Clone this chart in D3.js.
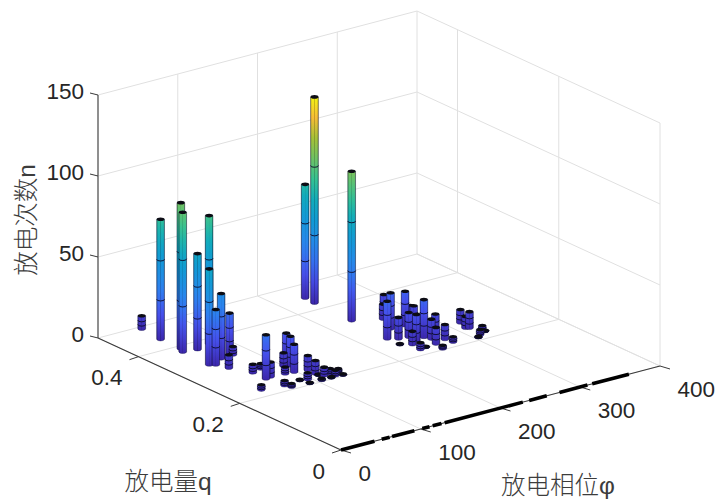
<!DOCTYPE html>
<html><head><meta charset="utf-8">
<style>html,body{margin:0;padding:0;background:#fff}svg{display:block}</style>
<script src="https://cdn.jsdelivr.net/npm/d3@7"></script></head><body>
<svg id="c" width="717" height="499"></svg>
<script>
const phiTicks=[0,100,200,300,400];
const qTicks=[0,0.2,0.4];
const nTicks=[0,50,100,150];
const barPhi=[51,48,48,44,60,79,43,48,63,78,79,53,64,41,77,64,71,111,106,98,100,88,67,70,88,91,112,96,112,112,106,116,124,125,133,118,132,234,235,233,267,250,261,230,267,283,274,250,239,230,240,250,262,265,277,260,275,277,238,246,257,316,311,314,320,311,305,321];
const barQ=[.474,.432,.392,.382,.378,.385,.328,.323,.336,.343,.338,.305,.275,.222,.28,.249,.251,.283,.267,.247,.271,.249,.217,.208,.22,.205,.242,.217,.227,.221,.205,.216,.217,.208,.215,.205,.204,.421,.441,.346,.336,.296,.328,.271,.294,.309,.288,.26,.263,.246,.237,.245,.249,.239,.25,.222,.228,.215,.218,.22,.204,.262,.244,.241,.225,.215,.209,.221];
const barN=[8,74,90,86,59,79,59,34,40,25,5,8,5,3,3,27,9,17,18,17,8,4,3,2,.5,.5,9,4,8,.5,1,5,3,3,2,.5,.5,127,70,92,13,22,9,23,21,8,12,15,13,.5,8,16,23,12,12,10,9,3,4,.5,2,8,7,10,3,3,.5,.5];
const flatFrom=[0,51,64,102,115,130,236,274,315];
const flatTo=[42,61,92,111,126,228,258,309,361];
const parulaPos=[0,.12,.25,.4,.5,.6,.8,.9,1];
const parulaCol=["#3e2ab4","#4852f4","#2d87f7","#119fdb","#12b1c0","#37c897","#abc739","#fec338","#f9fb15"];

const phiX=d3.scaleLinear().domain([0,400]).range([341,660]);
const phiY=d3.scaleLinear().domain([0,400]).range([0,-84]);
const qX=d3.scaleLinear().domain([0,.48]).range([0,-243]);
const qY=d3.scaleLinear().domain([0,.48]).range([450,338]);
const nY=d3.scaleLinear().domain([0,150]).range([0,-243]);
const P=(p,q,n=0)=>[phiX(p)+qX(q),qY(q)+phiY(p)+nY(n)];
const parula=d3.scaleLinear().domain(parulaPos).range(parulaCol).clamp(true);
const colorN=d3.scaleLinear().domain([0,d3.max(barN)]).range([0,1]);

const svg=d3.select("#c");
const defs=svg.append("defs");
const shade=defs.append("linearGradient").attr("id","shade");
[[0,.45],[.14,.03],[.44,.03],[.5,.22],[.56,.03],[.86,.03],[1,.45]].forEach(s=>shade.append("stop").attr("offset",s[0]).attr("stop-color","#000").attr("stop-opacity",s[1]));

const line=(a,b,col,w=1)=>svg.append("line").attr("x1",a[0]).attr("y1",a[1]).attr("x2",b[0]).attr("y2",b[1]).attr("stroke",col).attr("stroke-width",w);
const gridCol="#e0e0e0",axisCol="#262626";
const qMax=.48,pMax=400,nMax=150;
// walls and floor grid
nTicks.filter(n=>n>0).forEach(n=>{line(P(0,qMax,n),P(pMax,qMax,n),gridCol);line(P(pMax,qMax,n),P(pMax,0,n),gridCol);});
phiTicks.forEach(p=>{line(P(p,qMax,0),P(p,qMax,nMax),gridCol);line(P(p,0,0),P(p,qMax,0),gridCol);});
qTicks.forEach(q=>{line(P(pMax,q,0),P(pMax,q,nMax),gridCol);line(P(0,q,0),P(pMax,q,0),gridCol);});
line(P(0,qMax,0),P(pMax,qMax,0),gridCol);line(P(pMax,qMax,0),P(pMax,0,0),gridCol);
// axes
line(P(0,qMax,0),P(0,qMax,nMax),"#777",1.6);
line(P(0,qMax,0),P(0,0,0),"#3a3a3a",1.1);
line(P(0,0,0),P(pMax,0,0),"#3a3a3a",1.1);
const tick=(pt,dx,dy)=>line(pt,[pt[0]+dx,pt[1]+dy],"#3a3a3a",1);
nTicks.forEach(n=>tick(P(0,qMax,n),-8,-2));
qTicks.forEach(q=>tick(P(0,q,0),-9,3));
phiTicks.forEach(p=>tick(P(p,0,0),10,3));
flatFrom.forEach((f,i)=>line(P(f,0,0),P(flatTo[i],0,0),"#000",3.6));

// bars, back to front
const rx=3.9,ry=1.8;
const order=d3.range(barN.length).sort((a,b)=>P(barPhi[a],barQ[a])[1]-P(barPhi[b],barQ[b])[1]);
order.forEach(i=>{
  const [x,y0]=P(barPhi[i],barQ[i],0),y1=P(barPhi[i],barQ[i],barN[i])[1];
  const g=defs.append("linearGradient").attr("id","b"+i).attr("gradientUnits","userSpaceOnUse").attr("x1",0).attr("x2",0).attr("y1",y0).attr("y2",y1);
  d3.range(0,1.001,.1).forEach(t=>g.append("stop").attr("offset",t).attr("stop-color",parula(colorN(barN[i]*t))));
  const body=`M${x-rx},${y1}L${x+rx},${y1}L${x+rx},${y0}A${rx},${ry} 0 0 1 ${x-rx},${y0}Z`;
  svg.append("path").attr("d",body).attr("fill",`url(#b${i})`);
  svg.append("path").attr("d",body).attr("fill","url(#shade)").attr("stroke","#14143c").attr("stroke-opacity",.6).attr("stroke-width",.6);
  [1/3,2/3].forEach(t=>{const y=y0+(y1-y0)*t;
    svg.append("path").attr("d",`M${x-rx},${y}A${rx},${ry} 0 0 0 ${x+rx},${y}`).attr("fill","none").attr("stroke","#0a0a28").attr("stroke-width",.9);});
  svg.append("ellipse").attr("cx",x).attr("cy",y1).attr("rx",rx).attr("ry",ry).attr("fill","#0c0c14");
});

// labels
const txt=(s,x,y,anchor,size,fam)=>svg.append("text").text(s).attr("x",x).attr("y",y).attr("text-anchor",anchor).attr("dominant-baseline","central").attr("font-size",size).attr("font-family",fam).attr("fill",axisCol);
const latin="'Liberation Sans',Arial,sans-serif",mixed="'Liberation Sans','Noto Sans CJK SC',sans-serif";
nTicks.forEach(n=>{const p=P(0,qMax,n);txt(n,84,p[1]-3.5,"end",22.5,latin);});
qTicks.forEach(q=>{const p=P(0,q,0);txt(q,p[0]-16,p[1]+21,"end",22.5,latin);});
phiTicks.forEach(v=>{const p=P(v,0,0);txt(v,p[0]+17.5,p[1]+23,"start",22.5,latin);});
const title=(s,x,y,rot)=>svg.append("text").text(s).attr("transform",`translate(${x},${y}) rotate(${rot})`).attr("text-anchor","middle").attr("dominant-baseline","central").attr("font-size",24.5).attr("font-family",mixed).attr("font-weight",300).attr("fill","#3c3c3c");
title("放电次数n",26,220,-90);
title("放电量q",168,481.5,0);
title("放电相位φ",558,485,0);
</script></body></html>
